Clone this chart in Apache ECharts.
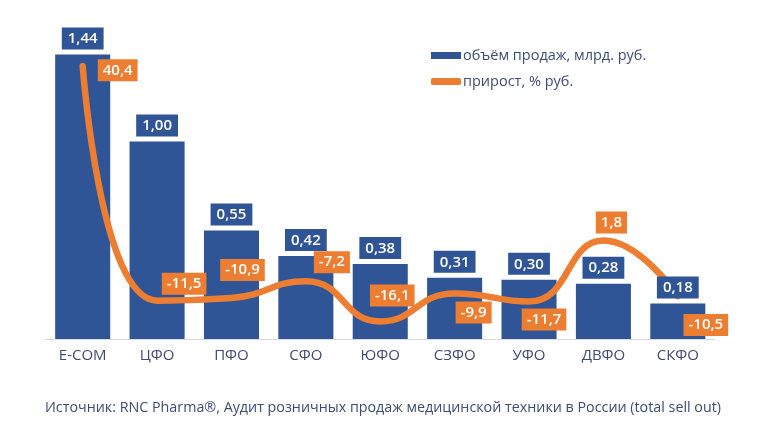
<!DOCTYPE html>
<html><head><meta charset="utf-8">
<script src="https://cdn.jsdelivr.net/npm/echarts@6/dist/echarts.min.js"></script>
<style>html,body{margin:0;padding:0;background:#fff}#c{width:766px;height:429px}</style>
</head><body><div id="c"></div>
<script>
var categories = ['E-COM','ЦФО','ПФО','СФО','ЮФО','СЗФО','УФО','ДВФО','СКФО'];
var salesVolume = [1.44, 1.00, 0.55, 0.42, 0.38, 0.31, 0.30, 0.28, 0.18];
var growth = [40.4, -11.5, -10.9, -7.2, -16.1, -9.9, -11.7, 1.8, -10.5];
var seriesNames = ['объём продаж, млрд. руб.', 'прирост, % руб.'];
var sourceText = 'Источник: RNC Pharma®, Аудит розничных продаж медицинской техники в России (total sell out)';

var lineLabelOffsets = [[35,4],[27,-17],[11,-28],[26,-19],[12,-26],[19,19],[15,18],[8,-18],[28,29]];
var fmt = function(v, d){ return v.toFixed(d).replace('.', ','); };
var BLUE = '#2F5597', ORANGE = '#ED7D31', TXT = '#3E4C72';
var FONT = '"Open Sans", sans-serif';

var chart = echarts.init(document.getElementById('c'), null, {renderer:'canvas'});
chart.setOption({
  animation:false,
  grid:{left:45.5, right:51, top:23, bottom:90},
  legend:{
    orient:'vertical', left:426, top:43, itemGap:11, itemWidth:30, itemHeight:7,
    textStyle:{color:TXT, fontSize:14.5, fontFamily:FONT, padding:[0,0,0,-3]},
    data:[{name:seriesNames[0], icon:'rect'},{name:seriesNames[1], icon:'roundRect'}]
  },
  title:{text:sourceText, left:'center', top:396,
    textStyle:{color:TXT, fontSize:14.3, fontWeight:'normal', fontFamily:FONT}},
  xAxis:{type:'category', data:categories,
    axisLine:{lineStyle:{color:'#D9D9D9'}}, axisTick:{show:false},
    axisLabel:{color:TXT, fontSize:15, fontFamily:FONT, margin:9}},
  yAxis:[
    {type:'value', min:0, max:1.6, show:false, splitLine:{show:false}},
    {type:'value', min:-20, max:50, show:false, splitLine:{show:false}}
  ],
  series:[
    {name:seriesNames[0], type:'bar', z:1, data:salesVolume, barCategoryGap:'26%',
      itemStyle:{color:BLUE}},
    {name:seriesNames[1], type:'line', yAxisIndex:1, z:3, smooth:0.5,
      symbol:'circle', symbolSize:0.1,
      lineStyle:{color:ORANGE, width:6.5, cap:'round'}, itemStyle:{color:ORANGE},
      data:growth.map(function(v,i){return {value:v, label:{offset:lineLabelOffsets[i]}};}),
      label:{show:true, position:'inside', color:'#fff', backgroundColor:ORANGE,
        padding:[4,5,3,5], fontSize:15, fontWeight:600, fontFamily:FONT,
        formatter:function(p){return fmt(p.value,1);}}},
    {name:'labels', type:'bar', z:5, data:salesVolume, barGap:'-100%', barCategoryGap:'26%',
      itemStyle:{color:'rgba(0,0,0,0)'}, silent:true,
      label:{show:true, position:'top', distance:5, color:'#fff', backgroundColor:BLUE,
        padding:[4,6,3,6], fontSize:15, fontWeight:600, fontFamily:FONT,
        formatter:function(p){return fmt(p.value,2);}}}
  ]
});
</script></body></html>
